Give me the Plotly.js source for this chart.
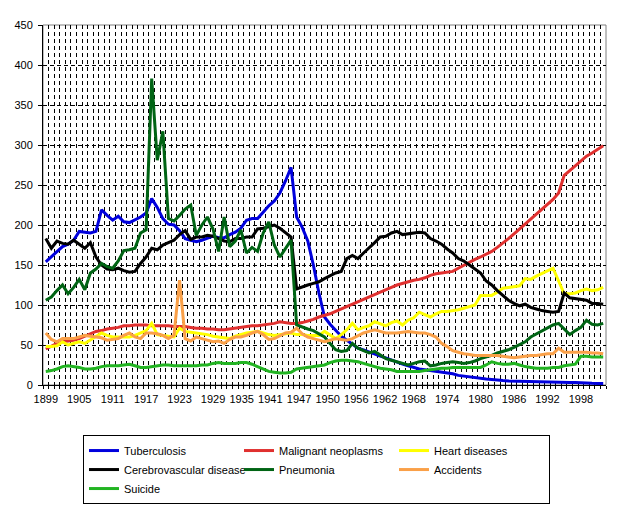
<!DOCTYPE html>
<html><head><meta charset="utf-8">
<script src="https://cdn.plot.ly/plotly-3.0.1.min.js"></script>
<style>html,body{margin:0;padding:0;background:#fff}#chart{width:621px;height:506px}</style>
</head><body><div id="chart"></div>
<script>
// Categories (no data 1944-1946)
const years = [1899,1900,1901,1902,1903,1904,1905,1906,1907,1908,1909,1910,1911,1912,1913,1914,1915,1916,1917,1918,1919,1920,1921,1922,1923,1924,1925,1926,1927,1928,1929,1930,1931,1932,1933,1934,1935,1936,1937,1938,1939,1940,1941,1942,1943,
1947,1948,1949,1950,1951,1952,1953,1954,1955,1956,1957,1958,1959,1960,1961,1962,1963,1964,1965,1966,1967,1968,1969,1970,1971,1972,1973,1974,1975,1976,1977,1978,1979,1980,1981,1982,1983,1984,1985,1986,1987,1988,1989,1990,1991,1992,1993,1994,1995,1996,1997,1998,1999,2000,2001,2002];
const tickLabels = ['1899','1905','1911','1917','1923','1929','1935','1941','1947','1950','1956','1962','1968','1974','1980','1986','1992','1998'];

const tuberculosis = [154,160,167,173,176,181,192,191,190,192,219,212,206,211,204,203,206,210,215,233,222,208,201,200,193,183,181,179,181,184,186,184,184,188,191,196,206,208,208,216,224,230,240,255,272,
210,197,180,150,115,85,76,68,61,56,51,46,44,41,38,36,34,31,29,26,24,22,20,19,18,17,16,15,14,12,11,10,9,8,7.5,7,6,5.5,5,4.8,4.5,4.2,4,3.5,3.4,3.3,3.3,3.3,3.2,3.2,3.1,2.5,2.2,2.1,2,2];
const malignant = [45,49,52,54,55,56,58,61,64,67,68,70,71,72,74,74,75,75,75,74,74,74,74,73,73,73,72,71,71,70,70,69,69,70,71,72,73,74,74,75,76,77,79,78,77,
77,78,80,82,85,87,89,92,95,99,101,104,107,110,113,116,119,122,125,127,129,131,132,134,137,139,140,141,142,146,150,153,157,160,163,167,172,177,183,189,195,201,207,213,219,225,232,240,262,268,274,280,286,290,295,299];
const heart = [48,48,49,54,50,52,54,52,56,60,65,62,60,60,60,60,62,65,68,77,63,62,61,60,71,67,66,65,64,63,61,60,59,58,61,63,65,66,67,65,63,62,63,64,65,
63,63,62,62,62,67,62,58,63,69,77,69,72,74,79,76,74,78,80,75,81,84,91,88,85,89,92,92,93,94,96,98,100,112,112,112,116,121,122,123,124,133,132,136,139,142,146,130,114,114,115,118,120,118,119,122];
const cerebro = [183,171,180,177,176,181,176,171,178,160,150,145,144,146,143,141,142,152,160,171,169,175,178,181,188,193,182,185,185,187,186,183,180,179,183,183,185,185,195,196,198,200,196,190,185,
120,123,125,127,129,133,137,140,142,158,162,158,165,171,178,185,186,190,192,188,189,190,191,190,183,180,176,170,165,158,155,150,145,140,130,125,118,112,106,102,99,101,97,95,93,92,91,92,115,109,108,107,106,102,102,101];
const pneumonia = [106,110,118,125,114,122,132,119,140,145,152,148,146,155,168,169,171,190,194,383,281,317,208,205,212,220,225,187,200,210,195,167,210,173,180,194,165,172,167,190,204,175,160,170,181,
75,72,70,68,64,60,52,44,42,43,52,46,43,40,42,37,33,31,29,27,25,27,29,30,24,25,27,28,29,28,27,28,30,33,35,37,40,42,44,47,50,54,60,64,68,72,75,77,70,63,68,72,81,76,75,77];
const accidents = [65,57,54,58,58,58,60,62,61,60,59,56,57,58,62,65,60,58,65,65,64,62,58,62,131,58,55,60,58,56,54,55,52,57,60,60,62,65,67,63,57,58,62,65,66,
71,64,60,58,56,54,56,58,57,56,58,62,65,67,69,67,65,65,65,66,67,66,65,65,63,60,52,48,43,41,39,38,37,37,37,37,37,36,35,34,35,36,37,37,38,39,39,46,41,41,41,41,41,40,40,39];
const suicide = [17,18,20,23,24,23,22,20,20,21,23,24,24,24,25,26,24,22,22,23,24,25,25,24,24,24,24,24,25,25,27,28,27,27,27,28,28,26,23,20,17,16,15,15,16,
20,21,22,23,24,25,28,30,31,31,30,29,27,25,23,21,20,19,17,17,17,17,17,18,19,20,21,21,22,22,22,22,22,22,25,29,27,26,26,27,25,23,22,21,21,21,22,22,24,25,26,36,36,35,35,35];

const idx = years.map((y, i) => i);
const series = [
  {name:'Tuberculosis', y:tuberculosis, color:'#0000DD'},
  {name:'Malignant neoplasms', y:malignant, color:'#E0302F'},
  {name:'Heart diseases', y:heart, color:'#FFFF00'},
  {name:'Cerebrovascular disease', y:cerebro, color:'#000000'},
  {name:'Pneumonia', y:pneumonia, color:'#006414'},
  {name:'Accidents', y:accidents, color:'#FAA048'},
  {name:'Suicide', y:suicide, color:'#22B422'}
];
const traces = series.map(s => ({
  type:'scatter', mode:'lines', name:s.name, x:idx, y:s.y,
  line:{color:s.color, width:3}, hoverinfo:'skip'
}));

// label positions: category index; the crowded middle run of labels is spread evenly
const tickvals = tickLabels.map(t => years.indexOf(Number(t)));
(function spread(){
  const a = tickLabels.indexOf('1929'), b = tickLabels.indexOf('1968');
  const p0 = tickvals[a], p1 = tickvals[b], n = b - a;
  for (let k = 1; k < n; k++) tickvals[a + k] = p0 + (p1 - p0) * k / n;
})();

const font = {family:'"Liberation Sans", Arial, sans-serif', size:11, color:'#000'};

const layout = {
  width:621, height:506,
  margin:{l:43, r:15, t:25, b:121, pad:0, autoexpand:false},
  paper_bgcolor:'#fff', plot_bgcolor:'#fff',
  font:font, showlegend:true,
  xaxis:{
    range:[-0.5, 100.5], tickmode:'array', tickvals:tickvals, ticktext:tickLabels,
    tickangle:0, automargin:false, ticklabelstandoff:4,
    ticks:'', tickfont:font,
    showgrid:false, zeroline:false, showline:true, linecolor:'#000', linewidth:1,
    minor:{tickmode:'linear', tick0:-0.5, dtick:1, ticks:'outside', ticklen:3, tickcolor:'#000',
      showgrid:true, gridcolor:'#000', gridwidth:1, griddash:'4px,3px'}
  },
  yaxis:{
    range:[0,450], dtick:50, tick0:0, ticks:'outside', ticklen:4, tickcolor:'#000', tickfont:font,
    automargin:false, ticklabelstandoff:3,
    showgrid:true, gridcolor:'#000', gridwidth:1, griddash:'4px,3px',
    zeroline:false, showline:true, linecolor:'#000', linewidth:1
  },
  shapes:[{type:'rect', xref:'paper', yref:'paper', x0:0, x1:1, y0:0, y1:1,
    line:{color:'#808080', width:1}, layer:'below'}],
  legend:{
    orientation:'h', x:0.071, xanchor:'left', y:-0.139, yanchor:'top',
    bordercolor:'#000', borderwidth:1, bgcolor:'#fff', font:font,
    entrywidth:110, entrywidthmode:'pixels', traceorder:'normal', itemwidth:30
  }
};
Plotly.newPlot('chart', traces, layout, {staticPlot:true, displayModeBar:false});
</script></body></html>
